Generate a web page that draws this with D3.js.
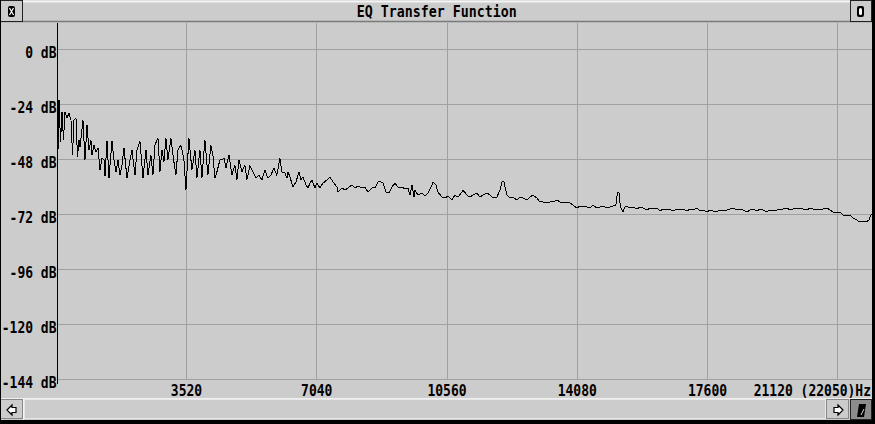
<!DOCTYPE html>
<html><head><meta charset="utf-8">
<script src="https://cdn.jsdelivr.net/npm/d3@7"></script>
<style>
html,body{margin:0;padding:0;background:#cccccc;overflow:hidden}
svg{display:block}
text{font-family:"DejaVu Sans Mono",monospace;font-weight:bold;font-size:13px;fill:#000}
</style></head>
<body>
<svg id="c" width="875" height="424"></svg>
<script>
const chartTitle = "EQ Transfer Function";
const nyquistHz = 22050;
const yTicksDb = [0, -24, -48, -72, -96, -120, -144];
const xTicksHz = [3520, 7040, 10560, 14080, 17600, 21120];

// low band (strong ripple)
const freqLow = [60,88,129,169,210,250,304,358,412,453,493,547,588,628,655,736,790,844,898,952,980,1034,1088,1142,1196,1250,1304,1331,1385,1439,1520,1574,1628,1682,1736,1790,1844,1925,2006,2060,2141,2195,2276,2357,2438,2492,2573,2627,2681,2762,2816,2870,2924,2978,3032,3113,3194,3248,3302,3383,3464,3518,3599,3680,3761,3815,3896,3950,4031,4112,4193,4247,4301,4355,4437,4491,4545,4599,4680,4761,4842,4896,4950,5031,5112,5166,5247,5328,5409,5490,5571,5652,5733,5814,5895,5976,6057];
const dbLow = [-44.8,-22.1,-40.5,-27.4,-39.6,-27.4,-30.0,-27.8,-30.9,-46.1,-30.9,-30.0,-47.0,-39.6,-42.6,-30.9,-48.3,-33.0,-43.9,-39.6,-46.1,-41.8,-44.8,-43.1,-52.7,-47.4,-48.3,-55.3,-40.0,-56.2,-40.0,-48.3,-53.5,-48.3,-54.9,-50.5,-43.1,-56.2,-48.3,-43.9,-54.9,-43.9,-40.0,-56.2,-43.9,-54.9,-46.1,-54.9,-41.8,-38.7,-53.5,-43.9,-49.2,-38.7,-48.3,-38.7,-49.2,-54.9,-43.9,-41.8,-48.3,-61.4,-38.7,-52.7,-43.9,-56.2,-43.9,-56.2,-39.6,-54.9,-41.8,-46.1,-56.2,-53.5,-48.3,-48.3,-47.4,-51.8,-46.1,-54.9,-50.5,-57.0,-48.3,-53.5,-50.5,-57.0,-50.9,-53.5,-56.2,-54.9,-57.0,-52.7,-56.2,-54.9,-51.8,-54.9,-47.4];

// mid band
const freqMid = [6113,6195,6249,6276,6330,6411,6492,6573,6627,6681,6762,6816,6870,6924,7005,7059,7140,7221,7329,7411,7492,7600,7627,7735,7816,7897,8005,8086,8167,8275,8356,8437,8545,8626,8707,8761,8843,8924,9005,9086,9167,9248,9356,9437,9518,9572,9626,9680,9707,9788,9896,9977,10058,10167,10194,10275,10329,10437,10518,10599,10707,10788,10869,10977,11004,11112,11193,11274,11382,11463,11545,11653,11734,11815,11923,12004,12058,12112,12193,12274,12355,12463,12544,12625,12733,12815,12896,13004,13085,13166,13274,13355,13436,13544,13625,13706,13814,13895,13976,14084,14165,14247,14355,14436,14517];
const dbMid = [-53.5,-54.0,-56.2,-53.5,-55.7,-60.1,-57.9,-53.5,-57.0,-55.7,-59.2,-60.5,-58.4,-57.0,-60.5,-58.4,-60.5,-58.4,-57.0,-55.7,-57.9,-60.1,-62.3,-60.5,-61.4,-60.5,-59.2,-60.5,-59.7,-60.5,-60.1,-62.3,-60.5,-60.5,-57.9,-57.5,-58.4,-62.3,-62.7,-60.1,-58.4,-60.1,-60.1,-61.0,-60.5,-63.6,-59.2,-64.5,-61.4,-63.6,-62.7,-64.0,-62.7,-59.2,-57.9,-59.2,-62.3,-64.5,-64.9,-64.0,-65.8,-63.6,-64.5,-62.3,-61.4,-63.6,-64.5,-63.6,-62.7,-64.5,-63.6,-62.7,-63.6,-64.9,-64.5,-61.4,-57.9,-57.9,-63.6,-64.9,-64.5,-65.8,-64.5,-64.9,-65.8,-64.5,-63.6,-64.9,-66.6,-66.6,-67.1,-66.6,-66.6,-65.8,-66.6,-67.1,-66.6,-67.1,-67.9,-69.3,-68.4,-68.8,-68.8,-69.3,-67.9];

// high band
const freqHigh = [14625,14706,14787,14895,14976,15057,15138,15179,15219,15260,15327,15381,15435,15517,15598,15706,15787,15868,15976,16057,16138,16246,16327,16408,16516,16597,16678,16786,16868,16949,17057,17138,17219,17327,17408,17489,17597,17678,17759,17867,17948,18029,18137,18219,18300,18408,18489,18570,18678,18759,18840,18948,19029,19110,19218,19299,19380,19488,19570,19651,19759,19840,19921,20029,20110,20191,20299,20380,20461,20569,20650,20731,20839,20921,21002,21110,21191,21272,21380,21461,21542,21650,21731,21812,21893,21974,22028,22050];
const dbHigh = [-69.3,-68.8,-68.4,-69.3,-68.8,-68.4,-67.9,-62.3,-62.3,-68.8,-71.0,-68.8,-68.4,-69.3,-68.8,-69.7,-68.8,-69.3,-70.1,-69.3,-69.7,-69.3,-70.6,-69.7,-70.1,-69.7,-70.6,-69.7,-70.1,-69.7,-70.6,-69.7,-70.1,-69.3,-70.6,-70.1,-71.0,-70.1,-70.6,-71.0,-70.1,-70.6,-70.1,-69.7,-69.3,-70.1,-69.7,-70.1,-71.0,-70.1,-69.7,-70.6,-69.7,-70.1,-71.0,-70.1,-70.6,-70.1,-70.1,-69.7,-69.3,-70.1,-69.7,-69.3,-69.3,-69.7,-70.1,-69.3,-69.7,-69.7,-70.1,-69.7,-69.3,-70.1,-71.0,-71.4,-71.0,-72.3,-72.7,-72.3,-73.6,-74.5,-75.4,-74.9,-75.4,-74.5,-72.3,-71.9];

const freqs = freqLow.concat(freqMid, freqHigh);
const dbs = dbLow.concat(dbMid, dbHigh);
const points = freqs.map((f, i) => ({f, db: dbs[i]}));

const W = 875, H = 424;
const plot = {left: 57, right: 872, top: 23, bottom: 379.3};
const SY = 1.23; // glyphs of the original pixel font are tall and narrow

const svg = d3.select("#c");
const x = d3.scaleLinear().domain([0, nyquistHz]).range([55.74, 871.7]);
const y = d3.scaleLinear().domain([-144, 0]).range([379.3, 49.3]);

function tall(sel, px, py) {
  sel.attr("x", px).attr("y", py / SY).attr("dy", null).attr("transform", `scale(1,${SY})`);
}

// window background
svg.append("rect").attr("width", W).attr("height", H).attr("fill", "#cccccc");

// ---- title bar ----
const tb = svg.append("g");
tb.append("rect").attr("x", 0).attr("y", 0).attr("width", 872).attr("height", 22).attr("fill", "#cccccc");
tb.append("line").attr("x1", 23).attr("x2", 850).attr("y1", 1.5).attr("y2", 1.5).attr("stroke", "#f4f4f4").attr("stroke-width", 2);
tb.append("line").attr("x1", 0).attr("x2", 872).attr("y1", 21.5).attr("y2", 21.5).attr("stroke", "#7a7a7a").attr("stroke-width", 1.5);
// left button
tb.append("rect").attr("x", 0.5).attr("y", 0.5).attr("width", 22).attr("height", 21).attr("fill", "#cccccc").attr("stroke", "#222").attr("stroke-width", 1);
tb.append("rect").attr("x", 8).attr("y", 6).attr("width", 7).attr("height", 11).attr("rx", 2).attr("fill", "#000");
tb.append("path").attr("d", "M9.5,8 L13.5,15 M13.5,8 L9.5,15").attr("stroke", "#fff").attr("stroke-width", 1.2);
// right button
tb.append("rect").attr("x", 850.5).attr("y", 0.5).attr("width", 21).attr("height", 21).attr("fill", "#cccccc").attr("stroke", "#222").attr("stroke-width", 1);
tb.append("rect").attr("x", 857).attr("y", 6).attr("width", 7).attr("height", 11).attr("rx", 2).attr("fill", "#000");
tb.append("rect").attr("x", 859).attr("y", 8).attr("width", 3).attr("height", 7).attr("rx", 1.5).attr("fill", "#fff");
tb.append("text").attr("text-anchor", "middle").style("font-size", "13.3px").text(chartTitle)
  .call(tall, 436.7, 17.3);

// ---- grid ----
const grid = svg.append("g").attr("shape-rendering", "crispEdges");
grid.append("g").attr("transform", `translate(${plot.left},0)`)
  .call(d3.axisLeft(y).tickValues(yTicksDb).tickSize(-(plot.right - plot.left)).tickFormat(d => `${d} dB`))
  .call(g => g.select(".domain").remove())
  .call(g => g.selectAll(".tick line").attr("stroke", "#a0a0a0"))
  .call(g => g.selectAll(".tick text").attr("fill", "#000").attr("font-family", null).attr("font-size", null)
      .call(tall, -0.5, 8.5));

const lastTick = xTicksHz[xTicksHz.length - 1];
grid.append("g").attr("transform", `translate(0,${plot.bottom})`)
  .call(d3.axisBottom(x).tickValues(xTicksHz).tickSize(-(plot.bottom - plot.top)).tickFormat(d => d === lastTick ? "" : `${d}`))
  .call(g => g.select(".domain").remove())
  .call(g => g.selectAll(".tick line").attr("stroke", "#a0a0a0"))
  .call(g => g.selectAll(".tick text").attr("fill", "#000").attr("font-family", null).attr("font-size", null)
      .call(tall, 0, 17.2));
const endLabel = `${lastTick} (${nyquistHz})Hz`;
svg.append("text").attr("text-anchor", "end").text(endLabel).call(tall, 871, plot.bottom + 17.2);

// ---- curve ----
svg.append("clipPath").attr("id", "pc").append("rect")
  .attr("x", plot.left).attr("y", plot.top).attr("width", plot.right - plot.left).attr("height", plot.bottom - plot.top + 4);
svg.append("path").datum(points).attr("clip-path", "url(#pc)")
  .attr("d", d3.line().x(d => x(d.f)).y(d => y(d.db)))
  .attr("fill", "none").attr("stroke", "#000").attr("stroke-width", 1)
  .attr("shape-rendering", "crispEdges");

// axis line
svg.append("line").attr("x1", 57.5).attr("x2", 57.5).attr("y1", plot.top).attr("y2", 383.5)
  .attr("stroke", "#000").attr("stroke-width", 1).attr("shape-rendering", "crispEdges");

// ---- bottom scrollbar ----
const sb = svg.append("g").attr("shape-rendering", "crispEdges");
sb.append("line").attr("x1", 0).attr("x2", 872).attr("y1", 398.5).attr("y2", 398.5).attr("stroke", "#f0f0f0");
sb.append("rect").attr("x", 0).attr("y", 399).attr("width", 872).attr("height", 21).attr("fill", "#cccccc");
// left arrow button
sb.append("rect").attr("x", 0.5).attr("y", 399.5).attr("width", 22).attr("height", 19).attr("fill", "#cccccc").attr("stroke", "#888");
sb.append("line").attr("x1", 23.5).attr("x2", 23.5).attr("y1", 399).attr("y2", 420).attr("stroke", "#f4f4f4");
sb.append("path").attr("d", "M7,410 L12,405 L12,407.5 L16,407.5 L16,412.5 L12,412.5 L12,415 Z")
  .attr("fill", "#fff").attr("stroke", "#000").attr("stroke-width", 1.2).attr("shape-rendering", "auto");
// track
sb.append("rect").attr("x", 24.5).attr("y", 399.5).attr("width", 801).attr("height", 19).attr("fill", "#cccccc").attr("stroke", "#e8e8e8");
// right arrow button
sb.append("rect").attr("x", 826.5).attr("y", 399.5).attr("width", 22).attr("height", 19).attr("fill", "#cccccc").attr("stroke", "#888");
sb.append("path").attr("d", "M843,410 L838,405 L838,407.5 L834,407.5 L834,412.5 L838,412.5 L838,415 Z")
  .attr("fill", "#fff").attr("stroke", "#000").attr("stroke-width", 1.2).attr("shape-rendering", "auto");
// resize corner
sb.append("rect").attr("x", 850.5).attr("y", 399.5).attr("width", 21).attr("height", 20).attr("fill", "#8c8c8c").attr("stroke", "#222");
sb.append("path").attr("d", "M857,417 L859,404 L866,404 L864,417 Z").attr("fill", "#000").attr("shape-rendering", "auto");
sb.append("path").attr("d", "M861,415 L864,409").attr("stroke", "#ddd").attr("stroke-width", 1).attr("shape-rendering", "auto");

// ---- window frame ----
svg.append("rect").attr("x", 0).attr("y", 0).attr("width", 1).attr("height", H).attr("fill", "#000");
svg.append("rect").attr("x", 872).attr("y", 0).attr("width", 3).attr("height", H).attr("fill", "#000");
svg.append("rect").attr("x", 0).attr("y", 420).attr("width", W).attr("height", 4).attr("fill", "#000");
</script>
</body></html>
